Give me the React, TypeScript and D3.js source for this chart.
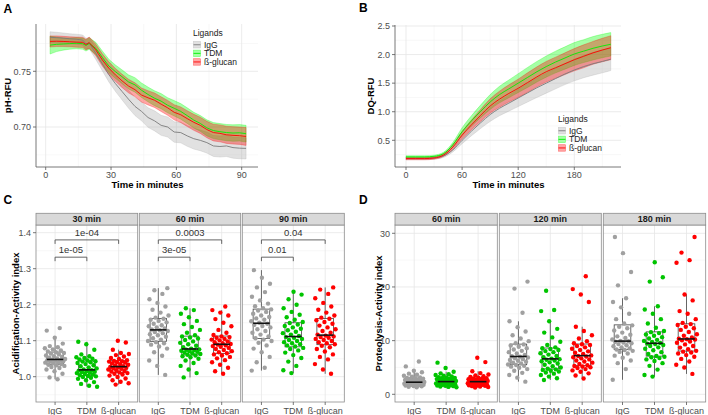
import React from 'react';
import * as d3 from 'd3';

const FONT = '"Liberation Sans", Arial, Helvetica, sans-serif';
const LIGANDS = ['IgG', 'TDM', 'ß-glucan'];
const LINE_COLORS = ['#7a7a7a', '#00ee00', '#ff0000'];
const FILL_COLORS = ['#a8a8a8', '#00ff00', '#ff0000'];
const POINT_COLORS = ['#a0a0a0', '#00c400', '#ff0000'];

// ---------- Panel A : pH-RFU ----------
const timeA = [2, 5, 8, 11, 14, 17, 18.5, 20, 23, 26, 29, 32, 35, 38, 41, 44, 47, 50, 53, 56, 59, 62, 65, 68, 71, 74, 77, 80, 83, 86, 89, 92];
const phIgG = [.7805, .7802, .7798, .7792, .7788, .7780, .7748, .7752, .7662, .7565, .7470, .7390, .7320, .7250, .7185, .7140, .7085, .7055, .7015, .7000, .6955, .6950, .6920, .6895, .6880, .6860, .6830, .6825, .6830, .6815, .6810, .6808];
const phTDM = [.7735, .7742, .7745, .7748, .7752, .7748, .7732, .7750, .7705, .7625, .7548, .7497, .7452, .7405, .7378, .7330, .7292, .7258, .7232, .7195, .7168, .7140, .7102, .7062, .7032, .6992, .6968, .6958, .6950, .6946, .6948, .6940];
const phBG = [.7768, .7770, .7768, .7765, .7762, .7760, .7740, .7758, .7692, .7602, .7528, .7468, .7415, .7368, .7335, .7287, .7262, .7240, .7205, .7172, .7132, .7110, .7075, .7042, .7015, .6977, .6950, .6943, .6930, .6925, .6922, .6915];
const phIgGSe = [.005, .0048, .0046, .0045, .0045, .0046, .0048, .005, .0055, .006, .0065, .007, .0075, .008, .0082, .0085, .0088, .009, .009, .009, .0092, .0092, .0093, .0093, .0093, .0094, .0094, .0095, .0095, .0095, .0095, .0095];
const phTDMSe = [.008, .0065, .0055, .005, .005, .005, .005, .0052, .0055, .0058, .006, .006, .0062, .0063, .0065, .0065, .0066, .0067, .0068, .0068, .0069, .007, .007, .007, .0071, .0072, .0072, .0073, .0073, .0074, .0074, .0075];
const phBGSe = [.005, .0048, .0046, .0045, .0045, .0046, .0048, .005, .0052, .0055, .0057, .0058, .006, .0061, .0062, .0063, .0064, .0065, .0066, .0067, .0068, .007, .0071, .0072, .0073, .0074, .0075, .0076, .0077, .0078, .0078, .008];
const xTicksA = [0, 30, 60, 90];
const yTicksA = [0.70, 0.75];

// ---------- Panel B : DQ-RFU ----------
const timeB = [0, 10, 20, 30, 40, 50, 60, 70, 80, 90, 100, 110, 120, 130, 140, 150, 160, 170, 180, 190, 200, 210, 219];
const dqIgG = [.18, .18, .18, .19, .225, .33, .50, .66, .81, .95, 1.06, 1.15, 1.24, 1.33, 1.42, 1.50, 1.58, 1.66, 1.73, 1.79, 1.84, 1.88, 1.92];
const dqTDM = [.21, .21, .21, .22, .265, .42, .65, .84, 1.01, 1.17, 1.30, 1.40, 1.50, 1.60, 1.70, 1.79, 1.87, 1.94, 2.01, 2.06, 2.11, 2.15, 2.18];
const dqBG = [.18, .18, .18, .19, .24, .38, .59, .77, .94, 1.10, 1.22, 1.32, 1.41, 1.51, 1.61, 1.70, 1.77, 1.84, 1.91, 1.97, 2.03, 2.08, 2.12];
const dqIgGSe = [.02, .02, .02, .02, .025, .035, .06, .08, .10, .12, .13, .14, .15, .16, .17, .175, .18, .185, .19, .195, .20, .20, .20];
const dqTDMSe = [.02, .02, .02, .02, .025, .04, .07, .09, .11, .13, .145, .155, .165, .175, .18, .185, .19, .195, .20, .20, .205, .205, .205];
const dqBGSe = [.02, .02, .02, .02, .025, .04, .065, .085, .105, .125, .14, .15, .16, .17, .175, .18, .185, .19, .195, .20, .20, .205, .21];
const xTicksB = [0, 60, 120, 180];
const yTicksB = [0.5, 1.0, 1.5, 2.0, 2.5];

// ---------- Panel C : Acidification-Activity index ----------
const facetsC = ['30 min', '60 min', '90 min'];
const acid30IgG = [0.993, 0.998, 1.008, 1.015, 1.020, 1.024, 1.027, 1.030, 1.032, 1.033, 1.035, 1.037, 1.039, 1.040, 1.042, 1.043, 1.044, 1.045, 1.046, 1.047, 1.049, 1.051, 1.053, 1.055, 1.057, 1.059, 1.062, 1.064, 1.066, 1.068, 1.070, 1.073, 1.076, 1.079, 1.082, 1.085, 1.092, 1.108, 1.128, 1.135];
const acid30TDM = [0.972, 0.975, 0.980, 0.985, 0.990, 0.994, 0.997, 0.999, 1.001, 1.002, 1.004, 1.006, 1.008, 1.010, 1.011, 1.013, 1.014, 1.016, 1.017, 1.018, 1.020, 1.023, 1.026, 1.029, 1.032, 1.035, 1.038, 1.040, 1.042, 1.043, 1.045, 1.048, 1.050, 1.052, 1.054, 1.057, 1.062, 1.075, 1.090, 1.097];
const acid30BG = [0.978, 0.982, 0.986, 0.990, 0.995, 0.999, 1.003, 1.006, 1.008, 1.010, 1.012, 1.014, 1.016, 1.018, 1.020, 1.022, 1.023, 1.025, 1.026, 1.027, 1.029, 1.031, 1.033, 1.035, 1.037, 1.039, 1.040, 1.042, 1.043, 1.044, 1.046, 1.049, 1.052, 1.056, 1.060, 1.063, 1.066, 1.075, 1.095, 1.100];
const acid60IgG = [1.005, 1.030, 1.045, 1.058, 1.068, 1.078, 1.084, 1.089, 1.093, 1.096, 1.099, 1.103, 1.107, 1.111, 1.115, 1.118, 1.121, 1.124, 1.127, 1.129, 1.131, 1.134, 1.137, 1.140, 1.143, 1.147, 1.151, 1.155, 1.158, 1.161, 1.164, 1.170, 1.178, 1.186, 1.195, 1.205, 1.215, 1.230, 1.240, 1.246];
const acid60TDM = [0.998, 1.010, 1.020, 1.030, 1.038, 1.045, 1.050, 1.054, 1.057, 1.059, 1.061, 1.063, 1.065, 1.067, 1.069, 1.071, 1.072, 1.074, 1.075, 1.076, 1.078, 1.082, 1.086, 1.090, 1.094, 1.098, 1.102, 1.106, 1.109, 1.112, 1.115, 1.122, 1.130, 1.138, 1.146, 1.155, 1.165, 1.175, 1.185, 1.190];
const acid60BG = [1.008, 1.015, 1.025, 1.033, 1.040, 1.046, 1.051, 1.055, 1.059, 1.062, 1.065, 1.068, 1.071, 1.074, 1.077, 1.080, 1.083, 1.085, 1.087, 1.089, 1.091, 1.093, 1.096, 1.098, 1.101, 1.103, 1.105, 1.108, 1.110, 1.112, 1.116, 1.122, 1.130, 1.140, 1.150, 1.160, 1.170, 1.178, 1.185, 1.195];
const acid90IgG = [1.017, 1.025, 1.040, 1.055, 1.068, 1.078, 1.087, 1.094, 1.099, 1.103, 1.107, 1.112, 1.117, 1.122, 1.127, 1.132, 1.137, 1.141, 1.144, 1.147, 1.150, 1.154, 1.158, 1.162, 1.166, 1.170, 1.175, 1.180, 1.184, 1.187, 1.190, 1.196, 1.203, 1.212, 1.222, 1.235, 1.248, 1.258, 1.275, 1.296];
const acid90TDM = [1.010, 1.018, 1.030, 1.042, 1.052, 1.060, 1.067, 1.073, 1.077, 1.080, 1.084, 1.087, 1.090, 1.093, 1.096, 1.099, 1.102, 1.105, 1.108, 1.110, 1.113, 1.117, 1.121, 1.125, 1.129, 1.133, 1.137, 1.141, 1.145, 1.149, 1.152, 1.158, 1.165, 1.172, 1.180, 1.190, 1.200, 1.215, 1.228, 1.236];
const acid90BG = [1.008, 1.020, 1.035, 1.048, 1.055, 1.062, 1.070, 1.077, 1.082, 1.086, 1.090, 1.093, 1.096, 1.099, 1.102, 1.105, 1.108, 1.110, 1.112, 1.114, 1.117, 1.122, 1.127, 1.132, 1.137, 1.142, 1.147, 1.152, 1.157, 1.161, 1.164, 1.170, 1.178, 1.186, 1.195, 1.205, 1.218, 1.230, 1.242, 1.248];
const pTopC = ['1e-04', '0.0003', '0.04'];
const pLowC = ['1e-05', '3e-05', '0.01'];
const yTicksC = [1.0, 1.1, 1.2, 1.3, 1.4];

// ---------- Panel D : Proteolysis-Activity index ----------
const facetsD = ['60 min', '120 min', '180 min'];
const prot60IgG = [1.30, 1.40, 1.48, 1.55, 1.62, 1.68, 1.74, 1.79, 1.83, 1.86, 1.89, 1.93, 1.97, 2.01, 2.05, 2.09, 2.13, 2.17, 2.20, 2.23, 2.28, 2.35, 2.42, 2.50, 2.58, 2.66, 2.75, 2.84, 2.92, 2.99, 3.05, 3.15, 3.30, 3.45, 3.65, 3.85, 4.10, 4.40, 5.20, 6.10];
const prot60TDM = [1.30, 1.38, 1.45, 1.52, 1.58, 1.64, 1.70, 1.75, 1.80, 1.84, 1.88, 1.93, 1.98, 2.03, 2.08, 2.13, 2.18, 2.23, 2.28, 2.33, 2.40, 2.47, 2.54, 2.61, 2.68, 2.75, 2.83, 2.91, 2.98, 3.04, 3.10, 3.20, 3.32, 3.45, 3.60, 3.75, 3.90, 4.20, 4.90, 5.90];
const prot60BG = [1.28, 1.36, 1.44, 1.52, 1.58, 1.64, 1.70, 1.75, 1.80, 1.84, 1.88, 1.93, 1.98, 2.03, 2.08, 2.13, 2.18, 2.23, 2.28, 2.33, 2.38, 2.44, 2.50, 2.56, 2.62, 2.68, 2.75, 2.82, 2.88, 2.94, 3.00, 3.10, 3.22, 3.35, 3.50, 3.70, 3.95, 4.30, 6.00, 6.80];
const prot120IgG = [2.36, 3.10, 3.60, 4.00, 4.40, 4.70, 4.95, 5.15, 5.30, 5.45, 5.55, 5.75, 5.90, 6.05, 6.25, 6.40, 6.55, 6.70, 6.85, 7.00, 7.10, 7.35, 7.60, 7.85, 8.10, 8.35, 8.60, 8.85, 9.10, 9.30, 9.50, 9.90, 10.40, 11.00, 11.70, 12.50, 13.60, 15.20, 19.70, 21.00];
const prot120TDM = [2.67, 3.00, 3.30, 3.60, 3.85, 4.05, 4.25, 4.40, 4.55, 4.65, 4.75, 5.00, 5.25, 5.50, 5.75, 5.95, 6.15, 6.30, 6.45, 6.55, 6.65, 6.90, 7.15, 7.40, 7.65, 7.85, 8.05, 8.25, 8.45, 8.58, 8.75, 9.20, 9.80, 10.60, 11.50, 12.20, 13.60, 15.50, 15.70, 19.30];
const prot120BG = [2.95, 3.50, 3.90, 4.20, 4.45, 4.70, 4.90, 5.05, 5.18, 5.27, 5.40, 5.65, 5.90, 6.10, 6.30, 6.50, 6.70, 6.90, 7.05, 7.15, 7.25, 7.50, 7.75, 8.00, 8.25, 8.50, 8.75, 9.00, 9.20, 9.33, 9.50, 9.90, 10.40, 11.00, 11.80, 12.60, 17.20, 18.60, 19.60, 22.00];
const prot180IgG = [2.70, 4.70, 5.80, 6.30, 6.80, 7.20, 7.60, 7.90, 8.10, 8.25, 8.35, 8.55, 8.75, 8.95, 9.15, 9.35, 9.50, 9.65, 9.78, 9.88, 9.95, 10.20, 10.50, 10.80, 11.10, 11.50, 11.90, 12.30, 12.60, 12.85, 13.20, 14.00, 15.00, 16.20, 17.20, 17.90, 20.30, 22.80, 26.30, 29.30];
const prot180TDM = [3.30, 3.60, 4.60, 5.30, 5.80, 6.20, 6.50, 6.75, 6.90, 7.00, 7.15, 7.50, 7.85, 8.20, 8.50, 8.75, 9.00, 9.20, 9.35, 9.45, 9.55, 9.75, 9.95, 10.15, 10.40, 10.65, 10.90, 11.15, 11.40, 11.58, 11.80, 12.40, 13.20, 14.00, 15.00, 15.80, 16.40, 21.00, 21.80, 24.60];
const prot180BG = [3.80, 5.00, 5.50, 6.10, 6.60, 7.00, 7.30, 7.60, 7.80, 7.95, 8.10, 8.40, 8.70, 9.00, 9.30, 9.60, 9.85, 10.05, 10.20, 10.28, 10.35, 10.60, 10.90, 11.20, 11.60, 12.00, 12.30, 12.60, 12.90, 13.08, 13.30, 14.00, 15.00, 15.50, 17.50, 18.60, 24.50, 25.00, 26.40, 29.30];
const yTicksD = [0, 10, 20, 30];

// ---------- helpers ----------
const AXIS_TXT = '#4d4d4d';
const GRID_MAJ = '#e6e6e6';
const GRID_MIN = '#f3f3f3';

type Series = { t: number[]; m: number[]; se: number[] };

function LinePanel(props: {
  left: number; right: number; top: number; bottom: number;
  x: d3.ScaleLinear<number, number>; y: d3.ScaleLinear<number, number>;
  xTicks: number[]; xMinor: number[]; yTicks: number[]; yMinor: number[];
  yFmt: (v: number) => string; series: Series[]; curve: d3.CurveFactory;
  xTitle: string; yTitle: string; yTitleX: number; legendX: number; legendY: number;
}) {
  const { left, right, top, bottom, x, y, series, curve } = props;
  const area = (s: Series) => d3.area<number>()
    .x((_, i) => x(s.t[i])).y0((d, i) => y(d - s.se[i])).y1((d, i) => y(d + s.se[i])).curve(curve)(s.m) || '';
  const line = (s: Series) => d3.line<number>().x((_, i) => x(s.t[i])).y(d => y(d)).curve(curve)(s.m) || '';
  return (
    <g>
      {props.xMinor.map(v => <line key={'xm' + v} x1={x(v)} x2={x(v)} y1={top} y2={bottom} stroke={GRID_MIN} strokeWidth={0.6} />)}
      {props.yMinor.map(v => <line key={'ym' + v} x1={left} x2={right} y1={y(v)} y2={y(v)} stroke={GRID_MIN} strokeWidth={0.6} />)}
      {props.xTicks.map(v => <line key={'xg' + v} x1={x(v)} x2={x(v)} y1={top} y2={bottom} stroke={GRID_MAJ} strokeWidth={0.8} />)}
      {props.yTicks.map(v => <line key={'yg' + v} x1={left} x2={right} y1={y(v)} y2={y(v)} stroke={GRID_MAJ} strokeWidth={0.8} />)}
      {series.map((s, i) => (
        <path key={'a' + i} d={area(s)} fill={FILL_COLORS[i]} fillOpacity={0.35} stroke={FILL_COLORS[i]} strokeOpacity={0.45} strokeWidth={0.6} />
      ))}
      {series.map((s, i) => (
        <path key={'l' + i} d={line(s)} fill="none" stroke={LINE_COLORS[i]} strokeWidth={0.9} />
      ))}
      <line x1={left} x2={left} y1={top} y2={bottom} stroke="#555" strokeWidth={0.8} />
      <line x1={left} x2={right} y1={bottom} y2={bottom} stroke="#555" strokeWidth={0.8} />
      {props.xTicks.map(v => (
        <g key={'xt' + v}>
          <line x1={x(v)} x2={x(v)} y1={bottom} y2={bottom + 3} stroke="#555" strokeWidth={0.8} />
          <text x={x(v)} y={bottom + 11} textAnchor="middle" fontSize={9} fill={AXIS_TXT}>{v}</text>
        </g>
      ))}
      {props.yTicks.map(v => (
        <g key={'yt' + v}>
          <line x1={left - 3} x2={left} y1={y(v)} y2={y(v)} stroke="#555" strokeWidth={0.8} />
          <text x={left - 5} y={y(v) + 3.2} textAnchor="end" fontSize={9} fill={AXIS_TXT}>{props.yFmt(v)}</text>
        </g>
      ))}
      <text x={(left + right) / 2 + 0.5} y={bottom + 20.5} textAnchor="middle" fontSize={9.5} fontWeight="bold" fill="#000">{props.xTitle}</text>
      <text transform={`translate(${props.yTitleX},${(top + bottom) / 2}) rotate(-90)`} textAnchor="middle" fontSize={9.5} fontWeight="bold" fill="#000">{props.yTitle}</text>
      <g transform={`translate(${props.legendX},${props.legendY})`}>
        <text x={0} y={0} fontSize={8.5} fill="#222">Ligands</text>
        {LIGANDS.map((lab, i) => (
          <g key={lab} transform={`translate(0,${5 + i * 8.6})`}>
            <rect x={0.5} y={0.5} width={7} height={6.5} fill="#fff" />
            <rect x={0.5} y={0.5} width={7} height={6.5} fill={FILL_COLORS[i]} fillOpacity={0.35} stroke={FILL_COLORS[i]} strokeOpacity={0.5} strokeWidth={0.6} />
            <line x1={0.5} x2={7.5} y1={3.75} y2={3.75} stroke={LINE_COLORS[i]} strokeWidth={0.9} />
            <text x={11} y={6.6} fontSize={8.5} fill="#222">{lab}</text>
          </g>
        ))}
      </g>
    </g>
  );
}

function boxStats(vals: number[]) {
  const s = vals.slice().sort(d3.ascending);
  const q1 = d3.quantile(s, 0.25) as number;
  const med = d3.quantile(s, 0.5) as number;
  const q3 = d3.quantile(s, 0.75) as number;
  const iqr = q3 - q1;
  const lo = d3.min(s.filter(v => v >= q1 - 1.5 * iqr)) as number;
  const hi = d3.max(s.filter(v => v <= q3 + 1.5 * iqr)) as number;
  return { q1, med, q3, lo, hi };
}

function FacetPanel(props: {
  panels: number[][]; stripTop: number; top: number; bottom: number;
  y: d3.ScaleLinear<number, number>; yTicks: number[]; yMinor: number[]; yFmt: (v: number) => string;
  facets: string[]; groups: number[][][]; yTitle: string; yTitleX: number;
  brackets?: { top: string[]; low: string[]; yTop: number; yLow: number; tick: number };
}) {
  const { panels, stripTop, top, bottom, y } = props;
  return (
    <g>
      {panels.map(([l, r], fi) => {
        const x = d3.scalePoint<string>().domain(LIGANDS).range([l, r]).padding(0.6);
        const step = x.step();
        const bw = step * 0.52;
        return (
          <g key={'f' + fi}>
            <rect x={l} y={top} width={r - l} height={bottom - top} fill="#fff" />
            {props.yMinor.map(v => <line key={'ym' + v} x1={l} x2={r} y1={y(v)} y2={y(v)} stroke={GRID_MIN} strokeWidth={0.6} />)}
            {props.yTicks.map(v => <line key={'yg' + v} x1={l} x2={r} y1={y(v)} y2={y(v)} stroke={GRID_MAJ} strokeWidth={0.8} />)}
            {LIGANDS.map(c => <line key={'xg' + c} x1={x(c)} x2={x(c)} y1={top} y2={bottom} stroke={GRID_MAJ} strokeWidth={0.8} />)}
            {LIGANDS.map((c, gi) => {
              const vals = props.groups[fi][gi];
              const st = boxStats(vals);
              const cx = x(c) as number;
              return (
                <g key={'b' + c}>
                  <line x1={cx} x2={cx} y1={y(st.q3)} y2={y(st.hi)} stroke="#444" strokeWidth={0.8} />
                  <line x1={cx} x2={cx} y1={y(st.q1)} y2={y(st.lo)} stroke="#444" strokeWidth={0.8} />
                  <rect x={cx - bw / 2} y={y(st.q3)} width={bw} height={y(st.q1) - y(st.q3)} fill="none" stroke="#444" strokeWidth={0.8} />
                  {vals.map((v, i) => {
                    const off = (((i + 1) * 0.618034 + gi * 0.37 + fi * 0.21) % 1) - 0.5;
                    return <circle key={i} cx={cx + off * step * 0.66} cy={y(v)} r={2.2} fill={POINT_COLORS[gi]} />;
                  })}
                  <line x1={cx - bw / 2} x2={cx + bw / 2} y1={y(st.med)} y2={y(st.med)} stroke="#111" strokeWidth={1.6} />
                </g>
              );
            })}
            {props.brackets && (() => {
              const b = props.brackets;
              const x1 = x(LIGANDS[0]) as number, x2 = x(LIGANDS[1]) as number, x3 = x(LIGANDS[2]) as number;
              const yt = y(b.yTop), yl = y(b.yLow), tk = b.tick;
              return (
                <g>
                  <path d={`M${x1},${yt + tk}V${yt}H${x3}V${yt + tk}`} fill="none" stroke="#555" strokeWidth={0.9} />
                  <text x={(x1 + x3) / 2} y={yt - 4} textAnchor="middle" fontSize={9.5} fill="#333">{b.top[fi]}</text>
                  <path d={`M${x1},${yl + tk}V${yl}H${x2}V${yl + tk}`} fill="none" stroke="#555" strokeWidth={0.9} />
                  <text x={(x1 + x2) / 2} y={yl - 4} textAnchor="middle" fontSize={9.5} fill="#333">{b.low[fi]}</text>
                </g>
              );
            })()}
            <rect x={l} y={top} width={r - l} height={bottom - top} fill="none" stroke="#8c8c8c" strokeWidth={0.8} />
            <rect x={l} y={stripTop} width={r - l} height={top - stripTop} fill="#d9d9d9" stroke="#8c8c8c" strokeWidth={0.8} />
            <text x={(l + r) / 2} y={top - 3} textAnchor="middle" fontSize={9} fontWeight="bold" fill="#1a1a1a">{props.facets[fi]}</text>
            {LIGANDS.map(c => (
              <g key={'xl' + c}>
                <line x1={x(c)} x2={x(c)} y1={bottom} y2={bottom + 3} stroke="#555" strokeWidth={0.8} />
                <text x={x(c)} y={bottom + 11.5} textAnchor="middle" fontSize={9} fill={AXIS_TXT}>{c}</text>
              </g>
            ))}
          </g>
        );
      })}
      {props.yTicks.map(v => (
        <g key={'yt' + v}>
          <line x1={panels[0][0] - 3} x2={panels[0][0]} y1={y(v)} y2={y(v)} stroke="#555" strokeWidth={0.8} />
          <text x={panels[0][0] - 5} y={y(v) + 3.2} textAnchor="end" fontSize={9} fill={AXIS_TXT}>{props.yFmt(v)}</text>
        </g>
      ))}
      <text transform={`translate(${props.yTitleX},${(top + bottom) / 2}) rotate(-90)`} textAnchor="middle" fontSize={9.5} fontWeight="bold" fill="#000">{props.yTitle}</text>
    </g>
  );
}

export default function App() {
  const xA = d3.scaleLinear().domain([0, 90]).range([45.7, 241.7]);
  const yA = d3.scaleLinear().domain([0.70, 0.75]).range([127, 71.3]);
  const xB = d3.scaleLinear().domain([0, 180]).range([406, 574.3]);
  const yB = d3.scaleLinear().domain([0.5, 2.5]).range([140.3, 26]);
  const yC = d3.scaleLinear().domain([1.0, 1.4]).range([376.7, 232.7]);
  const yD = d3.scaleLinear().domain([0, 30]).range([394.3, 233.3]);

  const seriesA: Series[] = [
    { t: timeA, m: phIgG, se: phIgGSe },
    { t: timeA, m: phTDM, se: phTDMSe },
    { t: timeA, m: phBG, se: phBGSe },
  ];
  const seriesB: Series[] = [
    { t: timeB, m: dqIgG, se: dqIgGSe },
    { t: timeB, m: dqTDM, se: dqTDMSe },
    { t: timeB, m: dqBG, se: dqBGSe },
  ];
  const groupsC = [
    [acid30IgG, acid30TDM, acid30BG],
    [acid60IgG, acid60TDM, acid60BG],
    [acid90IgG, acid90TDM, acid90BG],
  ];
  const groupsD = [
    [prot60IgG, prot60TDM, prot60BG],
    [prot120IgG, prot120TDM, prot120BG],
    [prot180IgG, prot180TDM, prot180BG],
  ];

  return (
    <svg width={708} height={415} viewBox="0 0 708 415"
      style={{ position: 'absolute', left: 0, top: 0, background: '#fff', fontFamily: FONT }}>
      <rect width={708} height={415} fill="#fff" />
      <LinePanel left={36} right={258} top={24} bottom={167} x={xA} y={yA}
        xTicks={xTicksA} xMinor={[15, 45, 75]} yTicks={yTicksA} yMinor={[0.675, 0.725, 0.775]}
        yFmt={d3.format('.2f')} series={seriesA} curve={d3.curveLinear}
        xTitle="Time in minutes" yTitle="pH-RFU" yTitleX={11} legendX={193} legendY={36} />
      <LinePanel left={395} right={621} top={25} bottom={167} x={xB} y={yB}
        xTicks={xTicksB} xMinor={[30, 90, 150, 210]} yTicks={yTicksB} yMinor={[0.25, 0.75, 1.25, 1.75, 2.25]}
        yFmt={d3.format('.1f')} series={seriesB} curve={d3.curveMonotoneX}
        xTitle="Time in minutes" yTitle="DQ-RFU" yTitleX={374} legendX={558} legendY={122} />
      <FacetPanel panels={[[36, 137.7], [139.3, 240.7], [242.3, 344.3]]} stripTop={213.3} top={225} bottom={402}
        y={yC} yTicks={yTicksC} yMinor={[0.95, 1.05, 1.15, 1.25, 1.35]} yFmt={d3.format('.1f')}
        facets={facetsC} groups={groupsC} yTitle="Acidification-Activity index" yTitleX={18.5}
        brackets={{ top: pTopC, low: pLowC, yTop: 1.38, yLow: 1.332, tick: 4 }} />
      <FacetPanel panels={[[395, 497.3], [499.3, 601.3], [603.3, 705.7]]} stripTop={213.3} top={225} bottom={402}
        y={yD} yTicks={yTicksD} yMinor={[5, 15, 25]} yFmt={d3.format('d')}
        facets={facetsD} groups={groupsD} yTitle="Proteolysis-Activity index" yTitleX={381.5} />
      <text x={3.5} y={12.5} fontSize={12} fontWeight="bold">A</text>
      <text x={359} y={12} fontSize={12} fontWeight="bold">B</text>
      <text x={3.5} y={204} fontSize={12} fontWeight="bold">C</text>
      <text x={359} y={204} fontSize={12} fontWeight="bold">D</text>
    </svg>
  );
}
